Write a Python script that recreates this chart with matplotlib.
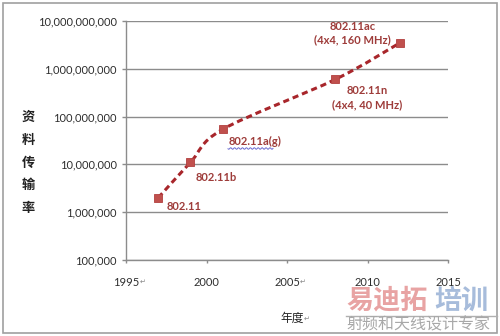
import numpy as np
import matplotlib
matplotlib.use("Agg")
import matplotlib.pyplot as plt
from matplotlib.path import Path
from matplotlib.patches import PathPatch, Rectangle
from matplotlib.lines import Line2D

# ---- data ----
years = [1997, 1999, 2001, 2008, 2012]
rates = [2e6, 11e6, 54e6, 600e6, 3.47e9]
labels = ["802.11", "802.11b", "802.11a(g)", "802.11n\n(4x4, 40 MHz)", "802.11ac\n(4x4, 160 MHz)"]
xticks = [1995, 2000, 2005, 2010, 2015]
yticks = [1e5, 1e6, 1e7, 1e8, 1e9, 1e10]
ytick_labels = ["100,000", "1,000,000", "10,000,000", "100,000,000",
                "1,000,000,000", "10,000,000,000"]
ylabel = "资料传输率"
xlabel = "年度"

W, H = 500, 336
fig = plt.figure(figsize=(W / 100, H / 100), dpi=100)
fig.patch.set_facecolor("white")
ax = fig.add_axes([126 / W, 1 - 260 / H, (448 - 126) / W, (260 - 21) / H])

ax.set_yscale("log")
ax.set_xlim(1995, 2015)
ax.set_ylim(1e5, 1e10)
ax.set_yticks(yticks)
ax.set_yticklabels(ytick_labels)
ax.minorticks_off()
ax.set_xticks(xticks)
ax.set_xticklabels([str(x) for x in xticks])
ax.grid(axis="y", color="#8c8c8c", lw=1.0)
ax.set_axisbelow(True)
for s in ["top", "right"]:
    ax.spines[s].set_visible(False)
for s in ["left", "bottom"]:
    ax.spines[s].set_color("#8c8c8c")
    ax.spines[s].set_linewidth(1.0)
ax.tick_params(axis="y", length=3, width=1, color="#8c8c8c", pad=3.5,
               labelsize=8, labelcolor="#2e2e2e")
ax.tick_params(axis="x", length=2.5, width=1, color="#8c8c8c", pad=10,
               labelsize=8, labelcolor="#2e2e2e")
for t in ax.get_xticklabels() + ax.get_yticklabels():
    t.set_fontfamily("Lato")

# ---- smoothed dashed line (Excel-style bezier in x / log10(y) space) ----
px = np.array(years, dtype=float)
py = np.log10(np.array(rates))
n = len(px)
verts = [(px[0], py[0])]
codes = [Path.MOVETO]
for i in range(n - 1):
    p0 = np.array([px[max(i - 1, 0)], py[max(i - 1, 0)]])
    p1 = np.array([px[i], py[i]])
    p2 = np.array([px[i + 1], py[i + 1]])
    p3 = np.array([px[min(i + 2, n - 1)], py[min(i + 2, n - 1)]])
    c1 = p1 + (p2 - p0) / 6.0
    c2 = p2 - (p3 - p1) / 6.0
    verts += [tuple(c1), tuple(c2), tuple(p2)]
    codes += [Path.CURVE4] * 3
verts = [(vx, 10 ** vy) for vx, vy in verts]
path = Path(verts, codes)
patch = PathPatch(path, facecolor="none", edgecolor="#A8262B", lw=2.2,
                  linestyle=(0, (2.0, 1.3)), transform=ax.transData, zorder=3)
ax.add_patch(patch)
ax.plot(years, rates, linestyle="none", marker="s", markersize=6,
        color="#C0504D", markeredgecolor="#B23F3F", markeredgewidth=0.6, zorder=4)

# ---- data labels ----
lab_color = "#9E3C3A"
offsets = [(6, -6, "left", "center"), (4, -11, "left", "center"),
           (4, -9, "left", "center"), (23, -13, "center", "center"),
           (-34, 7, "center", "center")]
for x, y, lab, (dx, dy, ha, va) in zip(years, rates, labels, offsets):
    ax.annotate(lab, (x, y), xytext=(dx, dy), textcoords="offset points",
                ha=ha, va=va, fontsize=8, fontweight="bold", color=lab_color,
                fontfamily="Lato", linespacing=1.3, zorder=5)

# wavy underline for 802.11a(g) (spell-check mark)
wx = np.linspace(228, 273, 60)
wy = 148.5 + 0.8 * np.sin(wx * 1.6)
fig.add_artist(Line2D(wx / W, 1 - wy / H, color="#6a6ad0", lw=0.7))

# ---- axis titles ----
for i, ch in enumerate(ylabel):
    fig.text(28 / W, 1 - (117 + i * 22.8) / H, ch, ha="center", va="center",
             fontsize=9.5, fontweight="bold", color="#222222",
             family=["Noto Sans CJK SC", "DejaVu Sans"])
fig.text(292 / W, 1 - 318 / H, xlabel, ha="center", va="center", fontsize=8.5,
         color="#222222", family=["Noto Sans CJK SC", "DejaVu Sans"])

# paragraph marks
pm = dict(fontsize=5, color="#888888", va="center", ha="left", family="DejaVu Sans")
fig.text(140 / W, 1 - 282 / H, "\u21b5", **pm)
fig.text(300 / W, 1 - 282 / H, "\u21b5", **pm)
fig.text(304 / W, 1 - 319 / H, "\u21b5", **pm)

# ---- watermark ----
fig.text(346 / W, 1 - 301 / H, "易迪拓", ha="left", va="center", fontsize=19.5,
         fontweight="bold", color="#E8A3A3", family=["Noto Sans CJK SC"])
fig.text(434 / W, 1 - 301 / H, "培训", ha="left", va="center", fontsize=19.5,
         fontweight="bold", color="#A7BCDB", family=["Noto Sans CJK SC"])
fig.add_artist(Line2D([346 / W, 497 / W], [1 - 315.5 / H, 1 - 315.5 / H],
                      color="#b0b0b0", lw=1))
fig.text(346 / W, 1 - 325 / H, "射频和天线设计专家", ha="left", va="center",
         fontsize=11.5, color="#a8a8a8", family=["Noto Sans CJK SC"])

# ---- frame ----
fig.add_artist(Rectangle((3 / W, 1 - 333 / H), 494 / W, 330 / H,
                         transform=fig.transFigure, fill=False,
                         edgecolor="#a0a0a0", lw=1.2))

fig.savefig("out.png", dpi=100, facecolor="white")
